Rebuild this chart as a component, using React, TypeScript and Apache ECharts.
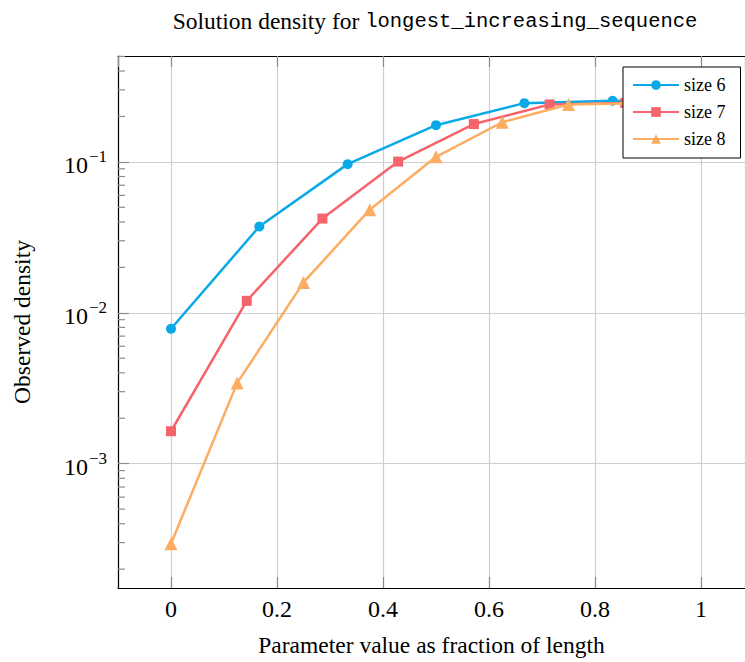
import React, { useEffect, useRef } from 'react';
import * as echarts from 'echarts';

// ---- Data ----
const seriesNames = ['size 6', 'size 7', 'size 8'];
const xSize6 = [0, 0.1667, 0.3333, 0.5, 0.6667, 0.8333, 1];
const ySize6 = [0.00784, 0.0373, 0.0966, 0.175, 0.245, 0.254, 0.25];
const xSize7 = [0, 0.1429, 0.2857, 0.4286, 0.5714, 0.7143, 0.8571, 1];
const ySize7 = [0.00164, 0.012, 0.0421, 0.1004, 0.178, 0.24, 0.246, 0.245];
const xSize8 = [0, 0.125, 0.25, 0.375, 0.5, 0.625, 0.75, 0.875, 1];
const ySize8 = [0.000295, 0.00343, 0.0159, 0.0482, 0.108, 0.183, 0.24, 0.245, 0.245];
const minorTickValues = [
  0.0002, 0.0003, 0.0004, 0.0005, 0.0006, 0.0007, 0.0008, 0.0009,
  0.002, 0.003, 0.004, 0.005, 0.006, 0.007, 0.008, 0.009,
  0.02, 0.03, 0.04, 0.05, 0.06, 0.07, 0.08, 0.09,
  0.2, 0.3, 0.4, 0.5,
];
const titlePlain = 'Solution density for ';
const titleMono = 'longest_increasing_sequence';
const xName = 'Parameter value as fraction of length';
const yName = 'Observed density';

const SERIF = '"Liberation Serif", "DejaVu Serif", serif';
const MONO = '"Liberation Mono", "DejaVu Sans Mono", monospace';
const colors = ['#08a9e6', '#f5636b', '#fdad62'];
const symbols = ['circle', 'rect', 'triangle'];
const symbolSizes = [10, 10, 13];

const pairs = (xs: number[], ys: number[]) => xs.map((x, i) => [x, ys[i]]);

export default function App() {
  const ref = useRef<HTMLDivElement>(null);
  useEffect(() => {
    if (!ref.current) return;
    const chart = echarts.init(ref.current, undefined, { renderer: 'svg' });
    const datasets = [pairs(xSize6, ySize6), pairs(xSize7, ySize7), pairs(xSize8, ySize8)];
    const lineSeries = seriesNames.map((name, i) => ({
      name,
      type: 'line',
      data: datasets[i],
      symbol: symbols[i],
      symbolSize: symbolSizes[i],
      showAllSymbol: true,
      color: colors[i],
      lineStyle: { color: colors[i], width: 2.5 },
      itemStyle: { color: colors[i] },
      z: 5 + i,
    }));
    const tickColor = '#8c8c8c';
    chart.setOption({
      animation: false,
      backgroundColor: '#fff',
      grid: {
        left: 118,
        top: 56,
        bottom: 73.5,
        right: 0,
        show: false,
      },
      graphic: [
        {
          type: 'text',
          x: 435,
          y: 21,
          z: 10,
          style: {
            text: `{a|${titlePlain}}{b|${titleMono}}`,
            align: 'center',
            verticalAlign: 'middle',
            rich: {
              a: { fontFamily: SERIF, fontSize: 23.5, fill: '#000' },
              b: { fontFamily: MONO, fontSize: 20.5, fill: '#000' },
            },
          },
        },
      ],
      legend: {
        data: seriesNames,
        orient: 'vertical',
        left: 623,
        top: 67,
        backgroundColor: '#fff',
        borderColor: '#000',
        borderWidth: 1,
        borderRadius: 0,
        padding: [9, 15, 10, 9],
        itemWidth: 46,
        itemHeight: 12,
        itemGap: 9,
        textStyle: { fontFamily: SERIF, fontSize: 18, color: '#000' },
        z: 20,
      },
      xAxis: [
        {
          type: 'value',
          min: -0.1,
          max: 1.083,
          splitNumber: 6,
          position: 'bottom',
          name: xName,
          nameLocation: 'middle',
          nameGap: 45,
          nameTextStyle: { fontFamily: SERIF, fontSize: 23.5, color: '#000' },
          axisLine: { show: true, onZero: false, lineStyle: { color: '#000', width: 1.2 } },
          axisTick: { show: true, inside: true, length: 11, lineStyle: { color: tickColor, width: 1.2 } },
          axisLabel: {
            showMinLabel: false,
            showMaxLabel: false,
            margin: 9,
            fontFamily: SERIF,
            fontSize: 24,
            color: '#000',
            formatter: (v: number) => String(Math.round(v * 10) / 10),
          },
          splitLine: { show: true, lineStyle: { color: '#cfcfcf', width: 1.2 } },
        },
        {
          type: 'value',
          min: -0.1,
          max: 1.083,
          splitNumber: 6,
          position: 'top',
          axisLine: { show: true, onZero: false, lineStyle: { color: '#000', width: 1.2 } },
          axisTick: { show: true, inside: true, length: 11, lineStyle: { color: tickColor, width: 1.2 } },
          axisLabel: { show: false },
          splitLine: { show: false },
        },
      ],
      yAxis: {
        type: 'log',
        logBase: 10,
        min: 0.00015,
        max: 0.503,
        name: yName,
        nameLocation: 'middle',
        nameGap: 84,
        nameTextStyle: { fontFamily: SERIF, fontSize: 23.5, color: '#000' },
        axisLine: { show: true, onZero: false, lineStyle: { color: '#000', width: 1.2 } },
        axisTick: { show: true, inside: true, length: 11, lineStyle: { color: tickColor, width: 1.2 } },
        axisLabel: {
          showMinLabel: false,
          showMaxLabel: false,
          margin: 11,
          color: '#000',
          formatter: (v: number) => {
            const e = Math.round(Math.log10(v));
            return `{b|10}{s|\u2212${-e}}`;
          },
          rich: {
            b: { fontFamily: SERIF, fontSize: 24, color: '#000', padding: [6, 0, 0, 0] },
            s: { fontFamily: SERIF, fontSize: 17, color: '#000', padding: [0, 0, 10, 1] },
          },
        },
        splitLine: { show: true, lineStyle: { color: '#cfcfcf', width: 1.2 } },
      },
      series: [
        ...lineSeries,
        {
          name: 'minorTicks',
          type: 'custom',
          coordinateSystem: 'cartesian2d',
          silent: true,
          z: 3,
          data: minorTickValues.map((v) => [0, v]),
          renderItem: (params: any, api: any) => {
            const y = api.coord([0, api.value(1)])[1];
            const x0 = params.coordSys.x;
            return {
              type: 'line',
              shape: { x1: x0, y1: y, x2: x0 + 7, y2: y },
              style: { stroke: tickColor, lineWidth: 1.2 },
            };
          },
        },
      ],
    });
    return () => chart.dispose();
  }, []);
  return (
    <div
      ref={ref}
      style={{ position: 'fixed', left: 0, top: 0, width: 745, height: 662, background: '#fff' }}
    />
  );
}
